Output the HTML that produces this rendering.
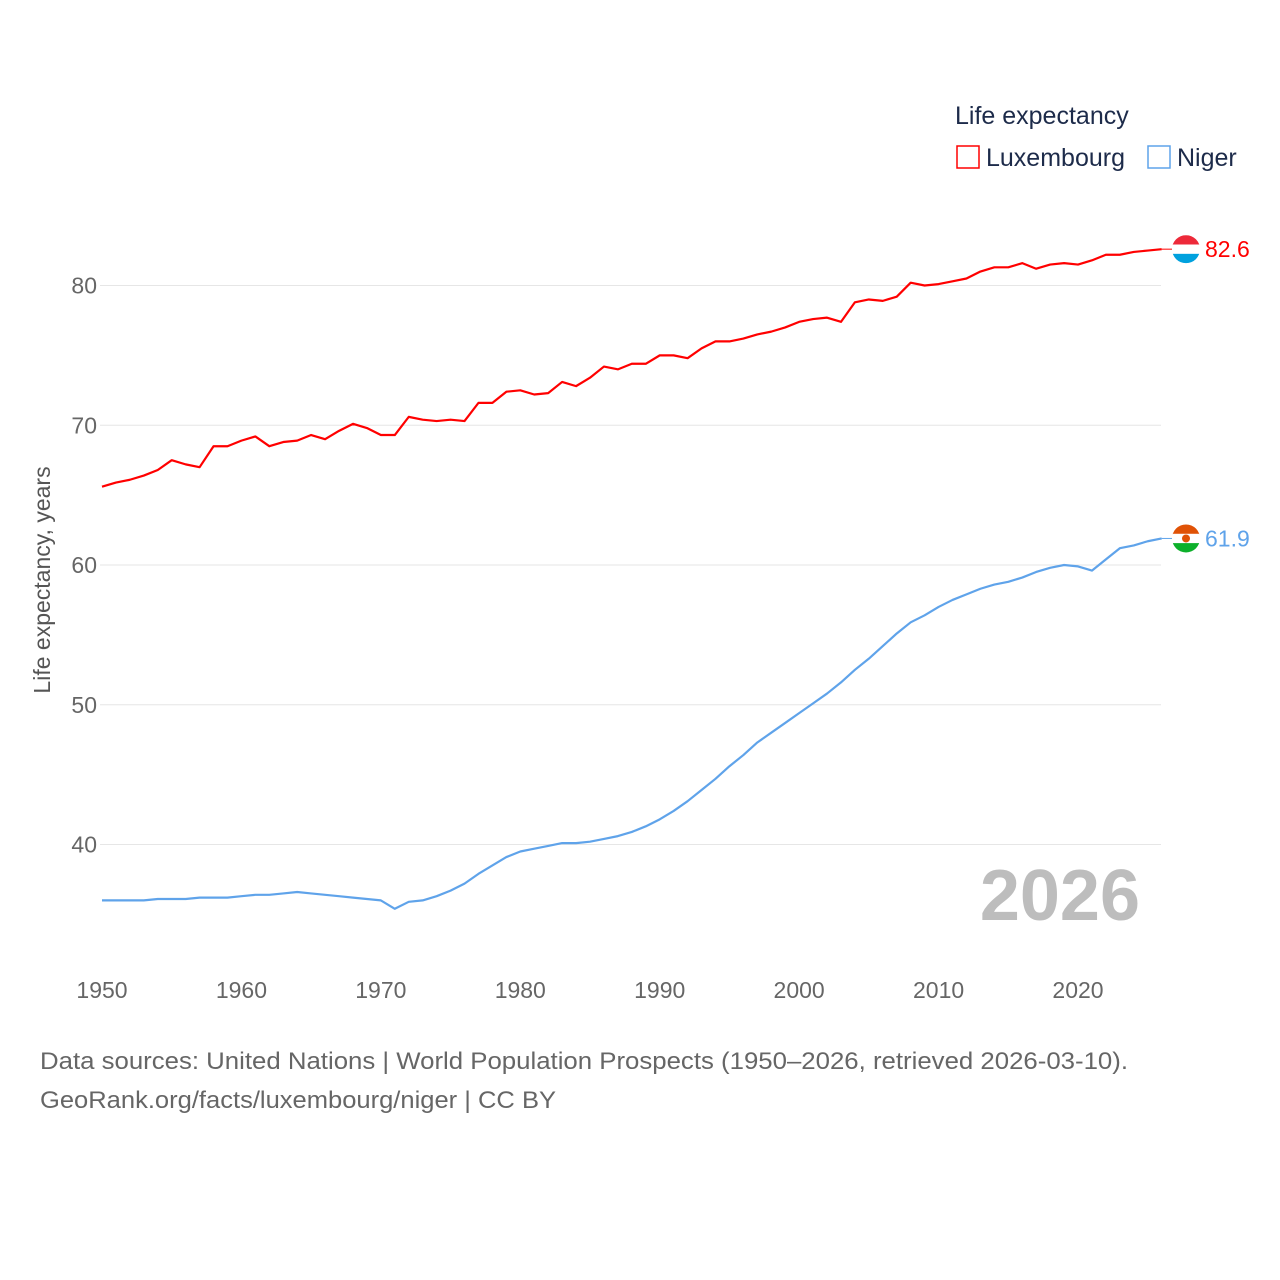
<!DOCTYPE html>
<html><head><meta charset="utf-8"><style>
html,body{margin:0;padding:0;background:#fff;}
svg{display:block;font-family:"Liberation Sans",sans-serif;}
</style></head><body>
<svg id="chart" width="1280" height="1280" viewBox="0 0 1280 1280">
<g id="grid"></g>
<g id="yticks"></g>
<g id="xticks"></g>
<text x="1140" y="920" text-anchor="end" font-size="72" font-weight="bold" fill="#bdbdbd">2026</text>
<g id="lines"></g>
<text transform="translate(50,580) rotate(-90)" text-anchor="middle" font-size="23" fill="#555">Life expectancy, years</text>
<g>
<text x="955" y="124" font-size="25" fill="#1d2b4a">Life expectancy</text>
<g><rect x="957" y="146" width="22" height="22" fill="none" stroke="#ff0000" stroke-width="1.5"/><text x="986" y="166" font-size="25" fill="#1d2b4a">Luxembourg</text></g>
<g><rect x="1148" y="146" width="22" height="22" fill="none" stroke="#5fa3ea" stroke-width="1.5"/><text x="1177" y="166" font-size="25" fill="#1d2b4a">Niger</text></g>
</g>
<text x="40" y="1069" font-size="24" fill="#666" textLength="1088" lengthAdjust="spacingAndGlyphs">Data sources: United Nations | World Population Prospects (1950–2026, retrieved 2026-03-10).</text>
<text x="40" y="1108" font-size="24" fill="#666" textLength="516" lengthAdjust="spacingAndGlyphs">GeoRank.org/facts/luxembourg/niger | CC BY</text>
</svg>
<script>
const years = [];
for (let y = 1950; y <= 2026; y++) years.push(y);
const luxembourg = [65.6,65.9,66.1,66.4,66.8,67.5,67.2,67.0,68.5,68.5,68.9,69.2,68.5,68.8,68.9,69.3,69.0,69.6,70.1,69.8,69.3,69.3,70.6,70.4,70.3,70.4,70.3,71.6,71.6,72.4,72.5,72.2,72.3,73.1,72.8,73.4,74.2,74.0,74.4,74.4,75.0,75.0,74.8,75.5,76.0,76.0,76.2,76.5,76.7,77.0,77.4,77.6,77.7,77.4,78.8,79.0,78.9,79.2,80.2,80.0,80.1,80.3,80.5,81.0,81.3,81.3,81.6,81.2,81.5,81.6,81.5,81.8,82.2,82.2,82.4,82.5,82.6];
const niger = [36.0,36.0,36.0,36.0,36.1,36.1,36.1,36.2,36.2,36.2,36.3,36.4,36.4,36.5,36.6,36.5,36.4,36.3,36.2,36.1,36.0,35.4,35.9,36.0,36.3,36.7,37.2,37.9,38.5,39.1,39.5,39.7,39.9,40.1,40.1,40.2,40.4,40.6,40.9,41.3,41.8,42.4,43.1,43.9,44.7,45.6,46.4,47.3,48.0,48.7,49.4,50.1,50.8,51.6,52.5,53.3,54.2,55.1,55.9,56.4,57.0,57.5,57.9,58.3,58.6,58.8,59.1,59.5,59.8,60.0,59.9,59.6,60.4,61.2,61.4,61.7,61.9];
const yTicks = [40,50,60,70,80];
const xTicks = [1950,1960,1970,1980,1990,2000,2010,2020];

const NS = "http://www.w3.org/2000/svg";
const X = yr => 102 + (yr - 1950) * (976 / 70);
const Y = v => 565 - (v - 60) * 13.975;
function mk(tag, attrs, parent) { const e = document.createElementNS(NS, tag); for (const k in attrs) e.setAttribute(k, attrs[k]); parent.appendChild(e); return e; }

const grid = document.getElementById('grid'), yt = document.getElementById('yticks'), xt = document.getElementById('xticks'), lines = document.getElementById('lines');
yTicks.forEach(v => {
  const l = mk('line', {x1: 100, x2: 1161, y1: Y(v), y2: Y(v), stroke: '#e6e6e6', 'stroke-width': 1}, grid);
  
  
  const t = mk('text', {x: 97, y: Y(v) + 8, 'text-anchor': 'end', 'font-size': 23, fill: '#666'}, yt);
  t.textContent = v;
  
  
});
xTicks.forEach(v => {
  const t = mk('text', {x: X(v), y: 998, 'text-anchor': 'middle', 'font-size': 23, fill: '#666'}, xt);
  t.textContent = v;
  
  
});
function series(vals, color, name) {
  const p = mk('polyline', {points: vals.map((v, i) => X(years[i]) + ',' + Y(v)).join(' '), fill: 'none', stroke: color, 'stroke-width': 2.2, 'stroke-linejoin': 'round'}, lines);
  
  
  const last = vals[vals.length - 1], ly = Y(last);
  mk('line', {x1: X(years[years.length - 1]), x2: 1172, y1: ly, y2: ly, stroke: color, 'stroke-width': 1}, lines);
  const t = mk('text', {x: 1205, y: ly + 8, 'font-size': 23, fill: color}, lines);
  t.textContent = last.toFixed(1);
  
  
  return ly;
}
const lyL = series(luxembourg, '#ff0000', 'luxembourg');
const lyN = series(niger, '#5fa3ea', 'niger');
function flag(cy, colors, name, dot) {
  const g = mk('g', {}, lines);
  
  
  const id = 'clip-' + name;
  const cp = mk('clipPath', {id: id}, g); mk('circle', {cx: 1186, cy: cy, r: 14}, cp);
  colors.forEach((c, i) => mk('rect', {x: 1172, y: cy - 14 + i * 28 / 3, width: 28, height: 28 / 3 + 0.5, fill: c, 'clip-path': 'url(#' + id + ')'}, g));
  if (dot) mk('circle', {cx: 1186, cy: cy, r: 4, fill: '#e05206'}, g);
}
flag(lyL, ['#ed2939', '#ffffff', '#00a1de'], 'luxembourg', false);
flag(lyN, ['#e05206', '#ffffff', '#0db02b'], 'niger', true);
</script>
</body></html>
